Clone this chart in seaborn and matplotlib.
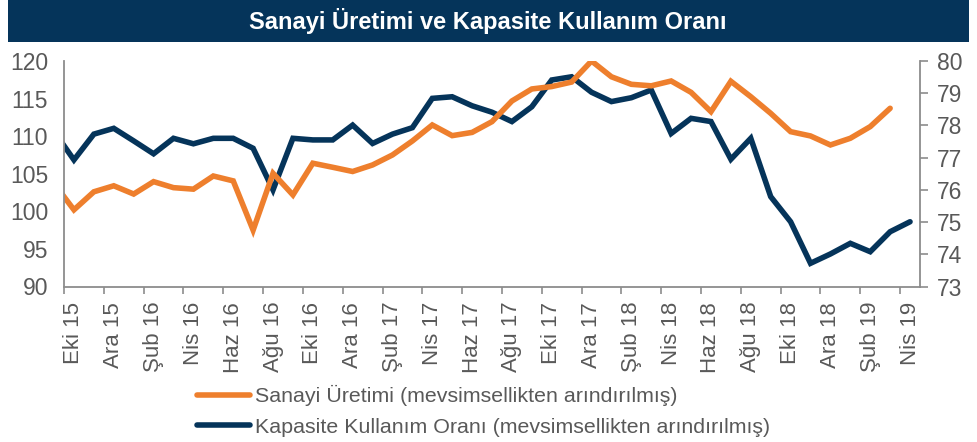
import numpy as np
import pandas as pd
import matplotlib
matplotlib.use("Agg")
import matplotlib.pyplot as plt
import seaborn as sns
from matplotlib.patches import Rectangle
from matplotlib.lines import Line2D

# ---------------- data ----------------
months = ["Eyl 15", "Eki 15", "Kas 15", "Ara 15", "Oca 16", "Şub 16", "Mar 16", "Nis 16",
          "May 16", "Haz 16", "Tem 16", "Ağu 16", "Eyl 16", "Eki 16", "Kas 16", "Ara 16",
          "Oca 17", "Şub 17", "Mar 17", "Nis 17", "May 17", "Haz 17", "Tem 17", "Ağu 17",
          "Eyl 17", "Eki 17", "Kas 17", "Ara 17", "Oca 18", "Şub 18", "Mar 18", "Nis 18",
          "May 18", "Haz 18", "Tem 18", "Ağu 18", "Eyl 18", "Eki 18", "Kas 18", "Ara 18",
          "Oca 19", "Şub 19", "Mar 19", "Nis 19"]

sanayi = [103.7, 100.2, 102.6, 103.4, 102.3, 103.95, 103.15, 102.95, 104.7, 104.05,
          97.5, 105.06, 102.18, 106.4, 105.86, 105.3, 106.17, 107.5, 109.36, 111.49,
          110.07, 110.5, 111.93, 114.68, 116.28, 116.6, 117.2, 120.0, 117.9, 116.9,
          116.7, 117.34, 115.83, 113.26, 117.3, 115.25, 113.04, 110.6, 110.03, 108.83,
          109.72, 111.27, 113.71, np.nan]

kapasite = [77.81, 76.93, 77.73, 77.91, 77.52, 77.12, 77.6, 77.43, 77.6, 77.6,
            77.29, 76.0, 77.6, 77.55, 77.55, 78.01, 77.44, 77.73, 77.93, 78.84,
            78.89, 78.61, 78.41, 78.12, 78.58, 79.41, 79.51, 79.03, 78.74, 78.86,
            79.1, 77.75, 78.22, 78.12, 76.95, 77.6, 75.79, 75.01, 73.72, 74.01,
            74.34, 74.08, 74.7, 75.01]

label_sanayi = "Sanayi Üretimi (mevsimsellikten arındırılmış)"
label_kapasite = "Kapasite Kullanım Oranı (mevsimsellikten arındırılmış)"
title = "Sanayi Üretimi ve Kapasite Kullanım Oranı"

left_ticks = [90, 95, 100, 105, 110, 115, 120]
right_ticks = [73, 74, 75, 76, 77, 78, 79, 80]

# ---------------- style ----------------
sns.set_style("white")
plt.rcParams["font.family"] = ["Liberation Sans", "DejaVu Sans"]

ORANGE = "#EE7F2D"
NAVY = "#05345A"
GRAY_TXT = "#595959"
GRAY_AX = "#8C8C8C"

idx = np.arange(len(months)) - 1   # "Eki 15" sits at 0
df = pd.DataFrame({"idx": idx, "ay": months, "sanayi": sanayi, "kapasite": kapasite})

fig = plt.figure(figsize=(9.78, 4.42), dpi=100)
ax = fig.add_axes([64 / 978, 1 - 286.5 / 442, (920 - 64) / 978, (286.5 - 61) / 442])
ax2 = ax.twinx()

sns.lineplot(data=df, x="idx", y="sanayi", ax=ax, color=ORANGE, linewidth=4.0,
             solid_capstyle="round", solid_joinstyle="miter", legend=False)
sns.lineplot(data=df, x="idx", y="kapasite", ax=ax2, color=NAVY, linewidth=4.0,
             solid_capstyle="round", solid_joinstyle="miter", legend=False)
ax.set_zorder(ax2.get_zorder() + 1)
ax.patch.set_visible(False)

ax.set_xlim(-0.5, 42.5)
ax.set_ylim(90, 120)
ax2.set_ylim(73, 80)

ax.set_xlabel("")
ax.set_ylabel("")
ax2.set_ylabel("")

# x ticks: marks between categories, labels at every second month
ax.set_xticks(np.arange(-0.5, 42, 2))
ax.set_xticklabels([])
lab_pos = np.arange(0, 43, 2)
ax.set_xticks(lab_pos, minor=True)
ax.set_xticklabels([months[p + 1] for p in lab_pos], minor=True, rotation=90,
                   fontsize=16, color=GRAY_TXT)
ax.tick_params(axis="x", which="major", direction="out", length=5, width=1.2,
               color=GRAY_AX, bottom=True)
ax.tick_params(axis="x", which="minor", length=0, pad=11)

ax.set_yticks(left_ticks)
ax.set_yticklabels([str(v) for v in left_ticks], fontsize=16.5, color=GRAY_TXT)
ax.tick_params(axis="y", length=0, pad=11.5)

ax2.set_yticks(right_ticks)
ax2.set_yticklabels([str(v) for v in right_ticks], fontsize=16.5, color=GRAY_TXT)
ax2.tick_params(axis="y", direction="out", length=6, width=1.2, color=GRAY_AX, pad=6)

for a in (ax, ax2):
    a.grid(False)
    a.spines["top"].set_visible(False)
    for s in ("left", "right", "bottom"):
        a.spines[s].set_color(GRAY_AX)
        a.spines[s].set_linewidth(1.3)
ax.spines["right"].set_visible(False)
ax2.spines["left"].set_visible(False)
ax2.spines["bottom"].set_visible(False)

# title bar
fig.patches.append(Rectangle((8 / 978, 1 - 42 / 442), (969 - 8) / 978, 42 / 442,
                             transform=fig.transFigure, facecolor=NAVY,
                             edgecolor="none", zorder=0))
fig.text(488 / 978, 1 - 21.5 / 442, title, ha="center", va="center",
         color="white", fontsize=17, fontweight="bold")

# legend
handles = [Line2D([], [], color=ORANGE, linewidth=4.0, solid_capstyle="round"),
           Line2D([], [], color=NAVY, linewidth=4.0, solid_capstyle="round")]
fig.legend(handles, [label_sanayi, label_kapasite], loc="upper left",
           bbox_to_anchor=(197 / 978, 1 - 385 / 442), frameon=False,
           fontsize=15.4, labelcolor=GRAY_TXT, handlelength=2.5, handletextpad=0.2,
           labelspacing=0.55, borderaxespad=0, borderpad=0)

fig.savefig("out.png", dpi=100)
